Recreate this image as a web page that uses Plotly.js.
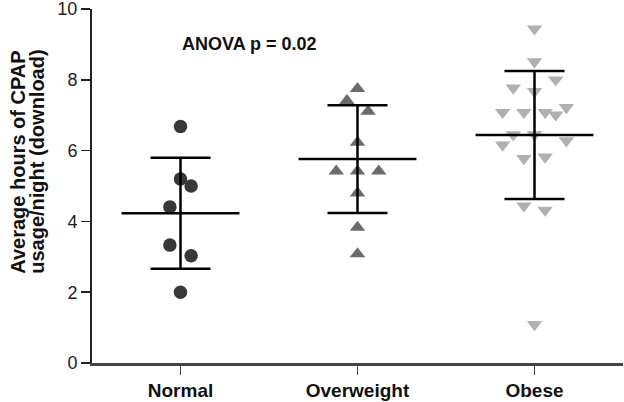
<!DOCTYPE html>
<html>
<head>
<meta charset="utf-8">
<script src="https://cdn.plot.ly/plotly-3.0.1.min.js"></script>
<style>
  html, body { margin: 0; padding: 0; background: #fff; }
  #chart { width: 624px; height: 402px; }
</style>
</head>
<body>
<div id="chart"></div>
<script>
// ---- data ----
const categories = ['Normal', 'Overweight', 'Obese'];

const normalHours = [6.68, 5.20, 5.00, 4.41, 3.33, 3.03, 2.00];
const normalColumn = [0, 0, 1, -1, -1, 1, 0];

const overweightHours = [7.75, 7.41, 7.11, 6.23, 5.42, 5.42, 5.42, 4.80, 3.83, 3.08];
const overweightColumn = [0, -1, 1, 0, -2, 0, 2, 0, 0, 0];

const obeseHours = [9.44, 8.51, 8.00, 7.77, 7.67, 7.22, 7.08, 7.08, 7.08, 7.01,
                    6.45, 6.45, 6.28, 6.16, 5.82, 5.78, 4.44, 4.32, 1.09];
const obeseColumn = [0, 0, 2, -2, 0, 3, -3, -1, 1, 2, -2, 0, 3, -3, 1, -1, -1, 1, 0];

const groupMeans = [4.23, 5.76, 6.44];
const groupSD = [1.57, 1.52, 1.81];

const yTickVals = [0, 2, 4, 6, 8, 10];
const yTitleLines = ['Average hours of CPAP', 'usage/night (download)'];
const anovaText = 'ANOVA p = 0.02';

// ---- layout helpers ----
const COLUMN_STEP = 0.06;   // horizontal spacing of beeswarm columns (category units)
const MEAN_HALF = 0.333;    // half-width of mean line (category units)

function xs(groupIndex, columns) {
  return columns.map(c => groupIndex + c * COLUMN_STEP);
}

const traces = [
  {
    type: 'scatter', mode: 'markers',
    x: xs(0, normalColumn), y: normalHours,
    marker: { symbol: 'circle', size: 13.5, color: '#383838' },
    hoverinfo: 'skip', showlegend: false
  },
  {
    type: 'scatter', mode: 'markers',
    x: xs(1, overweightColumn), y: overweightHours,
    marker: { symbol: 'triangle-up', size: 13.5, color: '#6b6b6b' },
    hoverinfo: 'skip', showlegend: false
  },
  {
    type: 'scatter', mode: 'markers',
    x: xs(2, obeseColumn), y: obeseHours,
    marker: { symbol: 'triangle-down', size: 13.5, color: '#b0b0b0' },
    hoverinfo: 'skip', showlegend: false
  },
  {
    type: 'scatter', mode: 'markers',
    x: [0, 1, 2], y: groupMeans,
    marker: { size: 1, opacity: 0 },
    error_y: { type: 'data', array: groupSD, visible: true, color: '#000', thickness: 2.5, width: 30 },
    error_x: { type: 'constant', value: MEAN_HALF, visible: true, color: '#000', thickness: 2.5, width: 0 },
    hoverinfo: 'skip', showlegend: false
  }
];

const titleFont = { size: 20, weight: 'bold', color: '#111' };

const layout = {
  width: 624, height: 402,
  margin: { l: 92, r: 1, t: 9, b: 39, pad: 0 },
  paper_bgcolor: '#fff', plot_bgcolor: '#fff',
  font: { family: 'Liberation Sans, Arial, sans-serif', color: '#000' },
  showlegend: false,
  xaxis: {
    range: [-0.5, 2.5],
    tickmode: 'array', tickvals: [0, 1, 2], ticktext: categories,
    showgrid: false, zeroline: false,
    showline: true, linecolor: '#444', linewidth: 2.5,
    ticks: 'outside', ticklen: 9, tickwidth: 1.5, tickcolor: '#444',
    tickfont: { size: 19, family: 'Liberation Sans, Arial, sans-serif', weight: 'bold', color: '#111' }
  },
  yaxis: {
    range: [0, 10],
    tickmode: 'array', tickvals: yTickVals,
    showgrid: false, zeroline: false,
    showline: true, linecolor: '#222', linewidth: 2,
    ticks: 'outside', ticklen: 9, tickwidth: 1.5, tickcolor: '#222',
    ticklabeloverflow: 'allow',
    tickfont: { size: 18, color: '#222' }
  },
  annotations: [
    {
      text: anovaText, xref: 'x', yref: 'y', x: 0.39, y: 9.0,
      showarrow: false, xanchor: 'center', yanchor: 'middle',
      font: { size: 18, weight: 'bold', color: '#111' }
    },
    {
      text: yTitleLines[0], xref: 'paper', yref: 'paper',
      x: -0.1384, y: 0.567, textangle: -90, showarrow: false,
      xanchor: 'center', yanchor: 'middle',
      font: titleFont
    },
    {
      text: yTitleLines[1], xref: 'paper', yref: 'paper',
      x: -0.1026, y: 0.567, textangle: -90, showarrow: false,
      xanchor: 'center', yanchor: 'middle',
      font: titleFont
    }
  ]
};

Plotly.newPlot('chart', traces, layout, { staticPlot: true, displayModeBar: false });
</script>
</body>
</html>
